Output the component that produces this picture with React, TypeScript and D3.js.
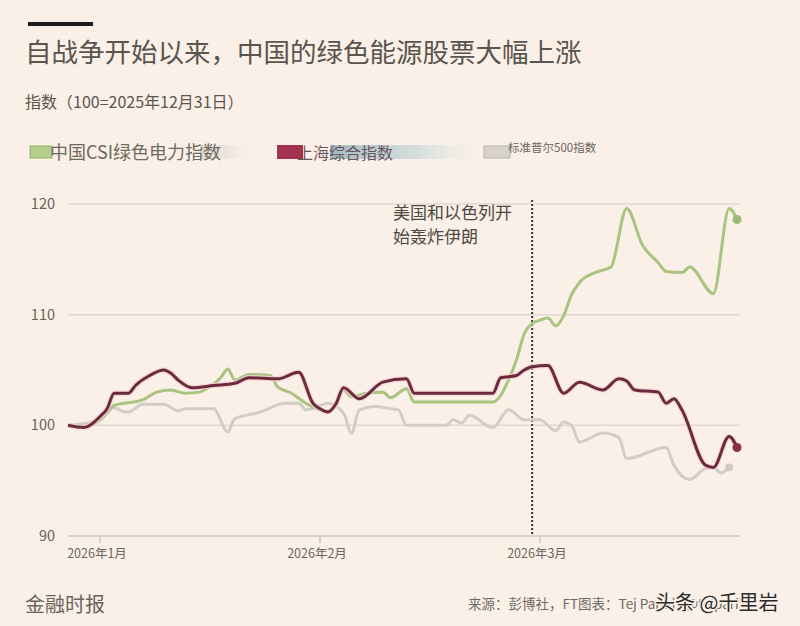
import React from "react";
import * as d3 from "d3";

// ---------- data ----------
const csiDates = [
  "2025-12-28","2025-12-30","2026-01-01","2026-01-02","2026-01-03","2026-01-07","2026-01-09","2026-01-11",
  "2026-01-13","2026-01-15","2026-01-16","2026-01-18","2026-01-19","2026-01-20","2026-01-22","2026-01-25",
  "2026-01-26","2026-01-28","2026-01-30","2026-02-01","2026-02-02","2026-02-03","2026-02-04","2026-02-05",
  "2026-02-07","2026-02-09","2026-02-10","2026-02-12","2026-02-13","2026-02-23","2026-02-24","2026-02-25",
  "2026-02-26","2026-02-27","2026-02-28","2026-03-01","2026-03-02","2026-03-03","2026-03-04","2026-03-05",
  "2026-03-06","2026-03-08","2026-03-10","2026-03-12","2026-03-14","2026-03-16","2026-03-17","2026-03-19",
  "2026-03-20","2026-03-23","2026-03-25","2026-03-26",
];
const csiValues = [
  100.0, 99.9, 100.5, 101.2, 101.8, 102.3, 103.0, 103.2,
  102.9, 103.0, 103.3, 104.3, 105.1, 104.1, 104.6, 104.5,
  103.5, 102.9, 102.0, 101.4, 101.3, 101.9, 103.2, 102.6,
  102.9, 103.0, 102.5, 103.3, 102.1, 102.1, 102.7, 104.1,
  105.9, 108.3, 109.2, 109.5, 109.7, 109.0, 109.9, 111.8,
  112.9, 113.8, 114.3, 119.6, 116.3, 114.7, 113.9, 113.8,
  114.3, 111.9, 119.6, 118.6,
];

const shanghaiDates = [
  "2025-12-28","2025-12-30","2026-01-01","2026-01-02","2026-01-03","2026-01-05","2026-01-06","2026-01-08",
  "2026-01-10","2026-01-11","2026-01-12","2026-01-14","2026-01-17","2026-01-20","2026-01-22","2026-01-26",
  "2026-01-29","2026-01-31","2026-02-01","2026-02-02","2026-02-03","2026-02-04","2026-02-06","2026-02-09",
  "2026-02-12","2026-02-13","2026-02-23","2026-02-24","2026-02-26","2026-02-27","2026-02-28","2026-03-02",
  "2026-03-04","2026-03-06","2026-03-09","2026-03-11","2026-03-12","2026-03-13","2026-03-16","2026-03-17",
  "2026-03-18","2026-03-19","2026-03-22","2026-03-23","2026-03-25","2026-03-26",
];
const shanghaiValues = [
  100.0, 99.8, 100.8, 101.5, 102.9, 102.9, 103.6, 104.5,
  105.0, 104.7, 104.1, 103.4, 103.6, 103.8, 104.3, 104.2,
  104.8, 102.0, 101.5, 101.2, 101.9, 103.4, 102.4, 103.9,
  104.2, 102.9, 102.9, 104.3, 104.5, 105.0, 105.3, 105.4,
  102.9, 103.9, 103.2, 104.2, 104.0, 103.2, 103.0, 102.0,
  102.4, 101.4, 96.4, 96.2, 99.0, 98.0,
];

const spDates = [
  "2025-12-28","2026-01-01","2026-01-03","2026-01-04","2026-01-05","2026-01-07","2026-01-10","2026-01-12",
  "2026-01-13","2026-01-17","2026-01-19","2026-01-20","2026-01-23","2026-01-24","2026-01-27","2026-01-29",
  "2026-01-30","2026-02-01","2026-02-02","2026-02-04","2026-02-05","2026-02-06","2026-02-08","2026-02-10",
  "2026-02-11","2026-02-12","2026-02-17","2026-02-18","2026-02-19","2026-02-20","2026-02-23","2026-02-25",
  "2026-02-27","2026-03-01","2026-03-03","2026-03-04","2026-03-05","2026-03-06","2026-03-09","2026-03-11",
  "2026-03-12","2026-03-17","2026-03-18","2026-03-20","2026-03-22","2026-03-23","2026-03-24","2026-03-25",
];
const spValues = [
  100.0, 100.5, 101.6, 101.3, 101.2, 101.9, 101.9, 101.3,
  101.5, 101.5, 99.4, 100.6, 101.1, 101.3, 102.0, 102.0,
  101.4, 101.8, 102.0, 101.1, 99.3, 101.4, 101.7, 101.5,
  101.4, 100.0, 100.0, 100.5, 100.2, 100.9, 99.8, 101.4,
  100.5, 100.5, 99.5, 100.3, 100.0, 98.5, 99.3, 98.9,
  97.0, 98.0, 96.4, 95.1, 96.1, 96.2, 95.7, 96.2,
];

const yTicks = [90, 100, 110, 120];
const xTickDates = ["2026-01-01", "2026-02-01", "2026-03-01"];
const xDomainDates = ["2025-12-28", "2026-01-01", "2026-02-01", "2026-03-01", "2026-03-26"];
const eventDate = "2026-02-28";

const titleText = "自战争开始以来，中国的绿色能源股票大幅上涨";
const subtitleText = "指数（100=2025年12月31日）";
const legendLabels = ["中国CSI绿色电力指数", "上海综合指数", "标准普尔500指数"];
const annotationLines = ["美国和以色列开", "始轰炸伊朗"];
const sourceText = "来源：彭博社，FT图表：Tej Parikh/@tejparikh";
const brandText = "金融时报";
const watermarkText = "头条 @千里岩";

// ---------- styles ----------
const BG = "#fbf0e7";
const GREEN = "#a9c381";
const MAROON = "#6c2b3d";
const GREY = "#d3cdc7";
const FONT = "'Noto Sans CJK SC', 'Noto Sans', sans-serif";

const parse = d3.timeParse("%Y-%m-%d");

type Pt = { date: Date; value: number };
const zip = (ds: string[], vs: number[]): Pt[] =>
  ds.map((d, i) => ({ date: parse(d) as Date, value: vs[i] }));

export default function App() {
  const W = 800, H = 626;
  const x = d3
    .scaleTime()
    .domain(xDomainDates.map((d) => parse(d) as Date))
    .range([68, 100, 320, 540, 737]);
  const y = d3.scaleLinear().domain([90, 120]).range([536, 204]);

  const line = d3
    .line<Pt>()
    .x((d) => x(d.date))
    .y((d) => y(d.value))
    .curve(d3.curveMonotoneX);

  const csi = zip(csiDates, csiValues);
  const sh = zip(shanghaiDates, shanghaiValues);
  const sp = zip(spDates, spValues);
  const tickFmt = d3.timeFormat("%Y年%-m月");
  const ex = x(parse(eventDate) as Date);

  const last = (a: Pt[]) => a[a.length - 1];

  return (
    <svg
      width={W}
      height={H}
      style={{ position: "fixed", left: 0, top: 0, background: BG, fontFamily: FONT }}
    >
      <defs>
        <linearGradient id="smear1" x1="0" x2="1" y1="0" y2="0">
          <stop offset="0" stopColor="#c9cbc4" stopOpacity="0.7" />
          <stop offset="1" stopColor="#e8e4de" stopOpacity="0" />
        </linearGradient>
        <linearGradient id="smear2" x1="0" x2="1" y1="0" y2="0">
          <stop offset="0" stopColor="#8fb0b6" stopOpacity="0.85" />
          <stop offset="0.6" stopColor="#c5d8d9" stopOpacity="0.6" />
          <stop offset="1" stopColor="#eef0ec" stopOpacity="0" />
        </linearGradient>
      </defs>
      <rect width={W} height={H} fill={BG} />

      {/* header */}
      <rect x={28} y={22} width={65} height={4} fill="#1a1a1a" />
      <text x={25} y={62} fontSize={26.5} fill="#5a544e">{titleText}</text>
      <text x={25} y={108} fontSize={16} fill="#5c5650">{subtitleText}</text>

      {/* legend */}
      <rect x={30} y={146} width={22} height={12} fill="#b3cf88" stroke="#95ad6d" strokeWidth={1} />
      <rect x={200} y={145} width={60} height={14} fill="url(#smear1)" />
      <text x={50} y={159} fontSize={18} fill="#6b6b60">{legendLabels[0]}</text>
      <rect x={277} y={145} width={26} height={14} fill="#a23350" />
      <rect x={330} y={145} width={160} height={14} fill="url(#smear2)" />
      <text x={297} y={159} fontSize={16} fill="#6a5560">{legendLabels[1]}</text>
      <rect x={484} y={146} width={26} height={12} fill="#d8d2cc" stroke="#b8b2ac" strokeWidth={1} />
      <text x={508} y={152} fontSize={11.5} fill="#6b655f">{legendLabels[2]}</text>

      {/* grid */}
      {yTicks.map((t) => (
        <g key={t}>
          <line x1={68} x2={740} y1={y(t)} y2={y(t)} stroke={t === 90 ? "#cdc6bf" : "#e0d9d2"} strokeWidth={1.5} />
          <text x={55} y={y(t)} dy="0.35em" textAnchor="end" fontSize={14.5} fill="#67615b">
            {t}
          </text>
        </g>
      ))}
      {xTickDates.map((d) => {
        const px = x(parse(d) as Date);
        return (
          <g key={d}>
            <line x1={px} x2={px} y1={536} y2={543} stroke="#cdc6bf" strokeWidth={1.5} />
            <text x={px - 3} y={558} textAnchor="middle" fontSize={12.5} fill="#6b655e">
              {tickFmt(parse(d) as Date)}
            </text>
          </g>
        );
      })}

      {/* annotation */}
      <line x1={ex} x2={ex} y1={200} y2={536} stroke="#3a3733" strokeWidth={2} strokeDasharray="2,2" />
      {annotationLines.map((t, i) => (
        <text key={t} x={393} y={219 + i * 24} fontSize={17} fill="#4d4843">
          {t}
        </text>
      ))}

      {/* lines */}
      <path d={line(sp) || ""} fill="none" stroke={GREY} strokeWidth={3} strokeLinejoin="round" />
      <circle cx={x(last(sp).date)} cy={y(last(sp).value)} r={4} fill="#d2cbc5" />
      <path d={line(csi) || ""} fill="none" stroke={GREEN} strokeWidth={3} strokeLinejoin="round" />
      <circle cx={x(last(csi).date)} cy={y(last(csi).value)} r={4.5} fill="#a0ba78" />
      <path d={line(sh) || ""} fill="none" stroke="#f3d3d8" strokeWidth={5.5} strokeLinejoin="round" opacity={0.8} />
      <path d={line(sh) || ""} fill="none" stroke={MAROON} strokeWidth={3} strokeLinejoin="round" />
      <circle cx={x(last(sh).date)} cy={y(last(sh).value)} r={4.5} fill="#8a2f47" />

      {/* footer */}
      <text x={25} y={612} fontSize={20} fill="#6a645d">{brandText}</text>
      <text x={468} y={609} fontSize={13.5} fill="#6f6962">{sourceText}</text>
      <text
        x={655}
        y={610}
        fontSize={20}
        fill="#2b2b2b"
        stroke="#fbf0e7"
        strokeWidth={3}
        style={{ paintOrder: "stroke" }}
      >
        {watermarkText}
      </text>
    </svg>
  );
}
